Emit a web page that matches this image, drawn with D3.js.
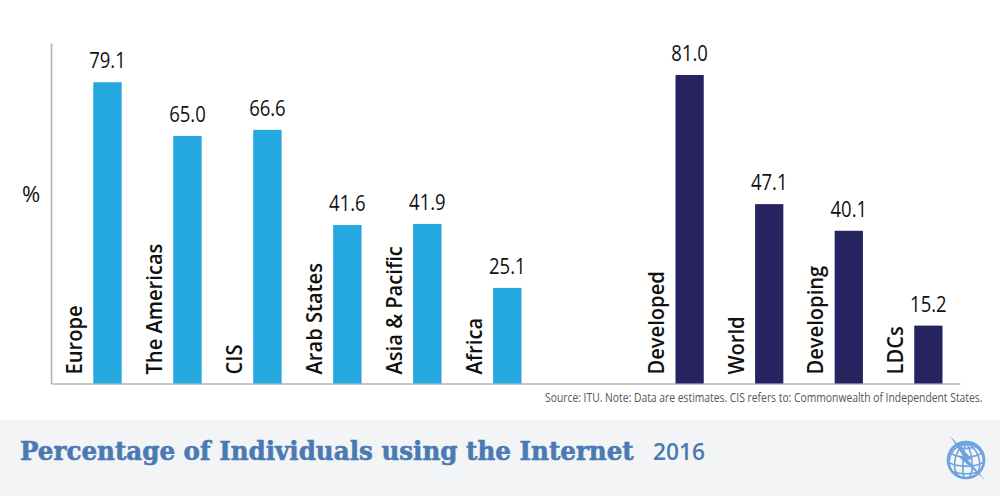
<!DOCTYPE html>
<html>
<head>
<meta charset="utf-8">
<title>Percentage of Individuals using the Internet 2016</title>
<script src="https://d3js.org/d3.v7.min.js"></script>
<style>
  body { margin: 0; background: #fff; overflow: hidden; }
  svg { display: block; }
  text { font-family: "Open Sans", "Noto Sans", sans-serif; fill: #111; }
</style>
</head>
<body>
<svg id="chart" width="1000" height="496"></svg>
<script>
const regions = ['Europe', 'The Americas', 'CIS', 'Arab States', 'Asia & Pacific', 'Africa'];
const regionValues = [79.1, 65.0, 66.6, 41.6, 41.9, 25.1];
const groups = ['Developed', 'World', 'Developing', 'LDCs'];
const groupValues = [81.0, 47.1, 40.1, 15.2];

const W = 1000, H = 496;
const svg = d3.select('#chart');

const axisX = 51, axisRight = 960, baseY = 383.5, topY = 43;

const y = d3.scaleLinear().domain([0, 89.4]).range([baseY, topY]);
const xRegions = d3.scaleBand().domain(regions).range([93.3, 521.5]).paddingInner(0.645);
const xGroups = d3.scaleBand().domain(groups).range([675.5, 942.5]).paddingInner(0.645);

// the original font is narrower than anything installed, so squeeze the text
function squeeze(sel, k) {
  sel.each(function() {
    d3.select(this)
      .attr('textLength', this.getComputedTextLength() * k)
      .attr('lengthAdjust', 'spacingAndGlyphs');
  });
}

// place a text at x,y and scale it horizontally to a given width
function fitWidth(sel, x, y, width) {
  sel.attr('transform', function() {
    return `translate(${x},${y}) scale(${width / this.getComputedTextLength()},1)`;
  });
}

// axes, no ticks
function styleAxis(g) {
  g.selectAll('.tick').remove();
  g.select('.domain').attr('stroke', '#b3b3b3').attr('stroke-width', 1.6);
}
svg.append('g').attr('transform', `translate(${axisX},0)`)
  .call(d3.axisLeft(y).tickValues([]).tickSize(0)).call(styleAxis);
svg.append('g').attr('transform', `translate(0,${baseY})`)
  .call(d3.axisBottom(d3.scaleLinear().range([axisX, axisRight])).tickValues([]).tickSize(0)).call(styleAxis);

function drawBars(names, values, x, color) {
  const data = names.map((name, i) => ({name, value: values[i]}));
  const g = svg.append('g');
  g.selectAll('rect').data(data).join('rect')
    .attr('x', d => x(d.name))
    .attr('y', d => y(d.value))
    .attr('width', x.bandwidth())
    .attr('height', d => baseY - y(d.value))
    .attr('fill', color);
  g.selectAll('.val').data(data).join('text')
    .attr('class', 'val')
    .attr('x', d => x(d.name) + x.bandwidth() / 2)
    .attr('y', d => y(d.value) - 14)
    .attr('text-anchor', 'middle')
    .attr('font-size', 21)
    .text(d => d.value.toFixed(1))
    .call(squeeze, 0.88);
  // rotated names sit to the left of each bar
  g.selectAll('.name').data(data).join('text')
    .attr('class', 'name')
    .attr('transform', d => `translate(${x(d.name) - 11.5},${baseY - 9}) rotate(-90)`)
    .attr('font-size', 22)
    .attr('font-weight', 600)
    .text(d => d.name)
    .call(squeeze, 0.915);
}
drawBars(regions, regionValues, xRegions, '#25a7e0');
drawBars(groups, groupValues, xGroups, '#252360');

svg.append('text').attr('x', 31).attr('y', 201.5).attr('text-anchor', 'middle')
  .attr('font-size', 22).text('%');

svg.append('text')
  .attr('font-size', 12).style('fill', '#555')
  .text('Source: ITU. Note: Data are estimates. CIS refers to: Commonwealth of Independent States.')
  .call(fitWidth, 545, 402, 438);

// footer band
svg.append('rect').attr('x', 0).attr('y', 420).attr('width', W).attr('height', H - 420).attr('fill', '#f3f4f5');
svg.append('text')
  .style('font-family', '"DejaVu Serif", serif').style('font-weight', 700).style('fill', '#4a7ab3')
  .style('stroke', '#4a7ab3').style('stroke-width', 0.6)
  .attr('font-size', 26).text('Percentage of Individuals using the Internet')
  .call(fitWidth, 20, 459.5, 614);
svg.append('text')
  .style('fill', '#4a7ab3').attr('font-size', 23).attr('font-weight', 600)
  .text('2016')
  .call(fitWidth, 653, 459.5, 52);

// ITU globe mark
const logo = svg.append('g').attr('transform', 'translate(966,460)');
const logoBlue = '#6ea3dd';
const globe = d3.geoOrthographic().scale(18).translate([0, 0]).rotate([20, -20]);
const globePath = d3.geoPath(globe);
logo.append('path').datum(d3.geoGraticule().step([30, 30])())
  .attr('d', globePath).attr('fill', 'none').attr('stroke', logoBlue).attr('stroke-width', 1.6);
logo.append('path').datum({type: 'Sphere'})
  .attr('d', globePath).attr('fill', 'none').attr('stroke', logoBlue).attr('stroke-width', 2.6);
logo.append('path').attr('d', 'M-16,-24 L-3,-4 L-7,-3 L19,20 L2,0 L6,-1 Z').attr('fill', logoBlue);
</script>
</body>
</html>
